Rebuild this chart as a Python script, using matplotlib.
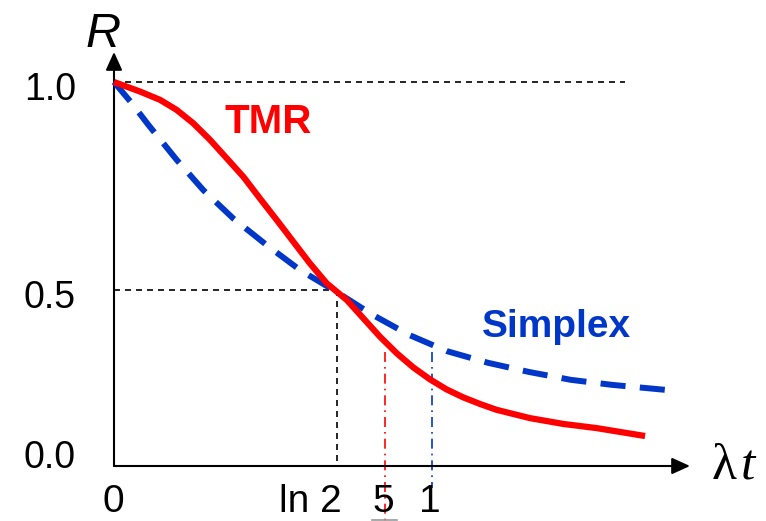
import matplotlib
matplotlib.use("Agg")
import matplotlib.pyplot as plt

# ---- data (lambda*t, R) ----
tmr_x = [0.0, 0.082, 0.145, 0.197, 0.249, 0.302, 0.354, 0.407, 0.459, 0.512, 0.564,
         0.616, 0.669, 0.732, 0.784, 0.836, 0.889, 0.941, 0.994, 1.046, 1.098, 1.151,
         1.203, 1.308, 1.413, 1.518, 1.670]
tmr_r = [1.0, 0.977, 0.957, 0.933, 0.901, 0.861, 0.817, 0.772, 0.720, 0.668, 0.616,
         0.564, 0.516, 0.476, 0.432, 0.388, 0.348, 0.314, 0.285, 0.261, 0.242, 0.226,
         0.212, 0.192, 0.178, 0.168, 0.149]
simplex_x = [0.0, 0.056, 0.108, 0.197, 0.281, 0.375, 0.480, 0.585, 0.690, 0.814, 0.928,
             1.047, 1.176, 1.305, 1.437, 1.566, 1.733]
simplex_r = [1.0, 0.949, 0.897, 0.813, 0.740, 0.672, 0.608, 0.548, 0.500, 0.440, 0.392,
             0.353, 0.325, 0.303, 0.284, 0.272, 0.260]

y_ticks = [1.0, 0.5]
y_tick_labels = ["1.0", "0.5", "0.0"]
x_ticks = [0.0, 0.70, 0.852, 1.0]
x_tick_labels = ["0", "ln 2", "5", "1"]

RED = "#FF0000"
BLUE = "#0037C8"

plt.rcParams['font.family'] = ['Liberation Sans', 'DejaVu Sans']

fig = plt.figure(figsize=(7.66, 5.21), dpi=100)
ax = fig.add_axes([0, 0, 1, 1])
ax.set_xlim(-114 / 318, 652 / 318)
ax.set_ylim(-23 / 416, 498 / 416)
ax.axis('off')

def px(x):
    return (x - 114) / 318

def py(y):
    return (498 - y) / 416

r_axis = py(466)

# axes with arrows
arrow = dict(arrowstyle='-|>,head_length=0.55,head_width=0.25', mutation_scale=20,
             lw=1.5, color='black', shrinkA=0, shrinkB=0)
ax.annotate('', xy=(px(690), r_axis), xytext=(0, r_axis), arrowprops=arrow)
ax.annotate('', xy=(0, py(52)), xytext=(0, r_axis), arrowprops=arrow)

# reference dashed lines
ax.plot([0, px(625)], [y_ticks[0], y_ticks[0]], color='black', lw=1.2,
        dashes=(3.6, 3.0))
ax.plot([0, x_ticks[1]], [y_ticks[1], y_ticks[1]], color='black', lw=1.2,
        dashes=(3.6, 3.0))
ax.plot([x_ticks[1], x_ticks[1]], [y_ticks[1], r_axis], color='black', lw=1.2,
        dashes=(3.6, 3.0))
# dash-dot verticals
ax.plot([x_ticks[2], x_ticks[2]], [py(352), py(521)], color=RED, lw=1.2,
        dashes=(6, 3, 1, 3))
ax.plot([x_ticks[3], x_ticks[3]], [py(352), py(488)], color=BLUE, lw=1.2,
        dashes=(6, 3, 1, 3))

# curves
ax.plot(simplex_x, simplex_r, color=BLUE, lw=4.3, dashes=(4.2, 2.4),
        dash_capstyle='butt', zorder=3)
ax.plot(tmr_x, tmr_r, color=RED, lw=4.5, solid_capstyle='butt',
        solid_joinstyle='round', zorder=4)

# labels
ax.text(px(225), py(133), 'TMR', color=RED, fontsize=29, fontweight='bold',
        ha='left', va='baseline')
ax.text(px(482), py(337), 'Simplex', color=BLUE, fontsize=28, fontweight='bold',
        ha='left', va='baseline')

# y tick labels
for lab, yb in zip(y_tick_labels, [100, 308, 468]):
    ax.text(px(50), py(yb), lab, fontsize=27, ha='center', va='baseline')

# x tick labels
for lab, xv in zip(x_tick_labels, [px(113), px(310), px(383), px(430)]):
    ax.text(xv, py(512), lab, fontsize=28, ha='center', va='baseline')
# fraction bar of the cut-off 5/6
ax.plot([px(372), px(397)], [py(519.5), py(519.5)], color='#999999', lw=1.2)

# axis titles
ax.text(px(103), py(47), 'R', fontsize=35, style='italic', ha='center', va='baseline')
ax.text(px(724), py(479), 'λ', fontsize=37, family=['Liberation Serif', 'DejaVu Serif'],
        ha='center', va='baseline')
ax.text(px(748), py(479), 't', fontsize=37, style='italic',
        family=['Liberation Serif', 'DejaVu Serif'], ha='center', va='baseline')

fig.savefig('out.png', dpi=100)
